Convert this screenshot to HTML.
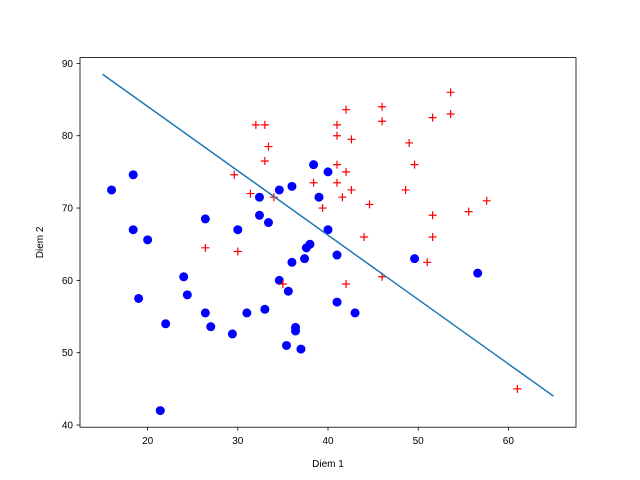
<!DOCTYPE html>
<html><head><meta charset="utf-8"><style>
body{margin:0;background:#fff;}
svg{display:block;font-family:"Liberation Sans","DejaVu Sans",sans-serif;}
</style></head><body>
<svg id="chart" width="640" height="480"></svg>
<script>
const blueX=[16,18.4,18.4,20,19,22,21.4,24,24.4,26.4,26.4,27,29.4,30,31,32.4,32.4,33,33.4,34.6,34.6,35.6,35.4,36,36,37.6,38,37.4,36.4,36.4,37,38.4,39,40,40,41,41,43,49.6,56.6];
const blueY=[72.5,74.6,67,65.6,57.5,54,42,60.5,58,68.5,55.5,53.6,52.6,67,55.5,71.5,69,56,68,72.5,60,58.5,51,73,62.5,64.5,65,63,53.5,53,50.5,76,71.5,67,75,63.5,57,55.5,63,61];
const redX=[29.6,26.4,30,31.4,32,33,33,33.4,34,35,38.4,39.4,41,41,41,41,41.6,42,42,42.6,42.6,42,44,44.6,46,46,46,48.6,49,49.6,51,51.6,51.6,51.6,53.6,53.6,55.6,57.6,61];
const redY=[74.6,64.5,64,72,81.5,81.5,76.5,78.5,71.5,59.5,73.5,70,81.5,80,76,73.5,71.5,83.6,75,72.5,79.5,59.5,66,70.5,84,82,60.5,72.5,79,76,62.5,82.5,69,66,86,83,69.5,71,45];
const lineX=[15,65];
const lineY=[88.5,44];
const xTicks=[20,30,40,50,60];
const yTicks=[40,50,60,70,80,90];

const L=80,R=576,T=57.6,B=427.2;
const xMin=12.5,xMax=67.5,yMin=39.7,yMax=90.8;
const sx=v=>L+(v-xMin)/(xMax-xMin)*(R-L);
const sy=v=>B-(v-yMin)/(yMax-yMin)*(B-T);
const svg=document.getElementById('chart');
const NS='http://www.w3.org/2000/svg';
function mk(tag,attrs,parent){const e=document.createElementNS(NS,tag);for(const k in attrs)e.setAttribute(k,attrs[k]);(parent||svg).appendChild(e);return e;}

blueX.forEach((x,i)=>{
  const c=mk('circle',{cx:sx(x),cy:sy(blueY[i]),r:4.5,fill:'#0000ff'});
  
  
});
redX.forEach((x,i)=>{
  const px=sx(x),py=sy(redY[i]);
  const g=mk('path',{d:`M${px-4},${py}H${px+4}M${px},${py-4}V${py+4}`,stroke:'#ff0000','stroke-width':1.2,fill:'none'});
  
  
});
const ln=mk('line',{x1:sx(lineX[0]),y1:sy(lineY[0]),x2:sx(lineX[1]),y2:sy(lineY[1]),stroke:'#1f77b4','stroke-width':1.5});



const fr=mk('rect',{x:L,y:T,width:R-L,height:B-T,fill:'none',stroke:'#000','stroke-width':0.8});



xTicks.forEach(t=>{
  const x=sx(t);
  const tk=mk('line',{x1:x,y1:B,x2:x,y2:B+3.5,stroke:'#000','stroke-width':0.8});
  
  
  const tx=mk('text',{x:x,y:B+17,'text-anchor':'middle','font-size':10,fill:'#000'});
  tx.textContent=t;
  
  
});
yTicks.forEach(t=>{
  const y=sy(t);
  const tk=mk('line',{x1:L-3.5,y1:y,x2:L,y2:y,stroke:'#000','stroke-width':0.8});
  
  
  const tx=mk('text',{x:L-7,y:y+3.5,'text-anchor':'end','font-size':10,fill:'#000'});
  tx.textContent=t;
  
  
});
const xt=mk('text',{x:(L+R)/2,y:467,'text-anchor':'middle','font-size':10,fill:'#000'});
xt.textContent='Diem 1';


const yt=mk('text',{x:0,y:0,'text-anchor':'middle','font-size':10,fill:'#000',transform:`translate(43,${(T+B)/2}) rotate(-90)`});
yt.textContent='Diem 2';


</script>
</body></html>
